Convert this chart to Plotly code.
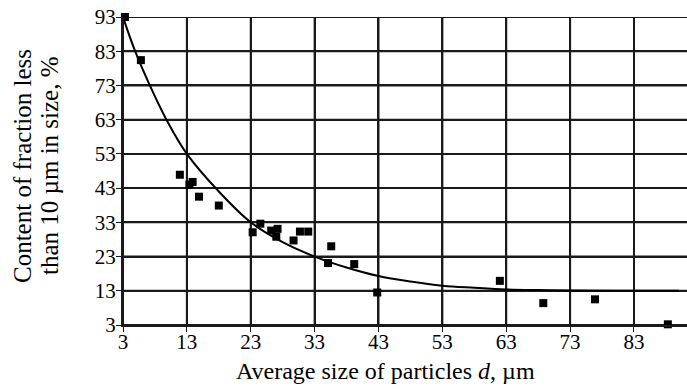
import plotly.graph_objects as go

# measured points
x_pts = [3.3, 5.8, 11.9, 13.9, 13.4, 14.9, 18.0, 23.3, 24.5, 26.2, 27.2, 27.0,
         29.7, 30.7, 32.0, 35.6, 35.1, 39.2, 42.8, 62.0, 68.8, 76.9, 88.3]
y_pts = [93.0, 80.4, 46.9, 44.8, 44.0, 40.5, 37.9, 30.1, 32.6, 30.6, 31.1, 28.8,
         27.7, 30.3, 30.3, 26.0, 21.1, 20.8, 12.5, 15.9, 9.4, 10.5, 3.2]

# trend curve
x_curve = [3, 4.9, 7.2, 9.8, 13, 18, 23, 28, 33, 38, 43, 48, 53, 58, 63, 68, 73, 80, 90]
y_curve = [93, 83, 73, 63, 53, 42, 33, 27.2, 23, 19.8, 17.3, 15.7, 14.5, 13.9, 13.4, 13.2, 13.1, 13.0, 13.0]

tick_vals = [3, 13, 23, 33, 43, 53, 63, 73, 83, 93]
tick_text = [str(v) for v in tick_vals]

x_title = "Average size of particles <i>d</i>, µm"
y_title_lines = ["Content of fraction less", "than 10 µm in size, %"]

font_family = "Liberation Serif"
grid_color = "#1a1a1a"

fig = go.Figure()
fig.add_trace(go.Scatter(x=x_curve, y=y_curve, mode="lines",
                         line=dict(color="black", width=2, shape="spline"),
                         hoverinfo="skip", showlegend=False))
fig.add_trace(go.Scatter(x=x_pts, y=y_pts, mode="markers",
                         marker=dict(symbol="square", size=8, color="black"),
                         showlegend=False, cliponaxis=False))

axis_common = dict(showgrid=True, gridcolor=grid_color, gridwidth=2,
                   showline=True, linecolor=grid_color, linewidth=2,
                   ticks="outside", ticklen=5, tickcolor=grid_color, tickwidth=1.2,
                   zeroline=False, automargin=False, tickmode="array",
                   tickfont=dict(family=font_family, size=21, color="black"))

fig.update_xaxes(range=[3, 91.3], tickvals=tick_vals[:-1], ticktext=tick_text[:-1],
                 ticklabelstandoff=-8, **axis_common)
fig.update_yaxes(range=[3, 93], tickvals=tick_vals, ticktext=tick_text,
                 ticklabelstandoff=-4, **axis_common)

# grid lines also as shapes placed at the tick values (robust rendering)
for v in tick_vals[:-1]:
    fig.add_shape(type="line", xref="x", yref="paper", x0=v, x1=v, y0=0, y1=1,
                  line=dict(color=grid_color, width=2), layer="below")
for v in tick_vals:
    fig.add_shape(type="line", xref="paper", yref="y", x0=0, x1=1, y0=v, y1=v,
                  line=dict(color=grid_color, width=2), layer="below")

title_font = dict(family=font_family, size=24, color="black")
fig.add_annotation(text=x_title, xref="paper", yref="paper", x=0.5, y=0,
                   xanchor="center", yanchor="middle", xshift=-20, yshift=-46,
                   showarrow=False, font=title_font)
for line, shift in zip(y_title_lines, [-101, -74]):
    fig.add_annotation(text=line, xref="paper", yref="paper", x=0, y=0.5,
                       xanchor="center", yanchor="middle", xshift=shift, yshift=5,
                       textangle=-90, showarrow=False,
                       font=dict(family=font_family, size=25, color="black"))

fig.update_layout(template="none", width=687, height=389,
                  margin=dict(l=123, r=0, t=17, b=64),
                  paper_bgcolor="white", plot_bgcolor="white",
                  font=dict(family=font_family, color="black"))

# remove the default 8px page margin so the figure fills the window exactly
fig.write_html("out.html", config={"displayModeBar": False},
               post_script="document.body.style.margin='0px';")
